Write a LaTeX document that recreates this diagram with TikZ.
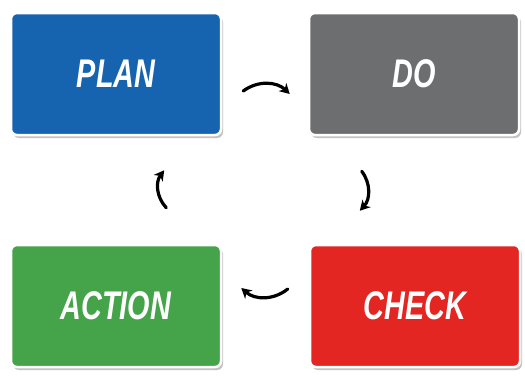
\documentclass[tikz,border=0pt]{standalone}
\usepackage{fontspec}
\setmainfont{Liberation Sans}
\newfontfamily\cyclefont[FakeStretch=0.72]{Liberation Sans}
\usetikzlibrary{arrows.meta,shadows}
\definecolor{planblue}{HTML}{1664B0}
\definecolor{dogray}{HTML}{6C6E70}
\definecolor{checkred}{HTML}{E32622}
\definecolor{actgreen}{HTML}{45A349}

\begin{document}
\begin{tikzpicture}[
    x=1pt, y=-1pt,
    stage/.style={rectangle, draw=white, line width=2.5pt, rounded corners=6pt,
        minimum width=210pt, minimum height=122pt, text=white,
        font=\cyclefont\bfseries\itshape\fontsize{40}{44}\selectfont,
        drop shadow={shadow xshift=2pt, shadow yshift=-3pt, fill=black!40, opacity=.6}},
    cyc/.style={-{Stealth[length=10pt,width=11pt,inset=3pt]}, line width=3.2pt, line cap=round}
]
\useasboundingbox (0,0) rectangle (525,376);

\node[stage, fill=planblue] (plan) at (116,74) {PLAN};
\node[stage, fill=dogray] (do) at (414,74) {DO};
\node[stage, fill=checkred] (check) at (415,306) {CHECK};
\node[stage, fill=actgreen] (action) at (116,306) {ACTION};

% short bent arrows between the stages
\draw[cyc] ([xshift=21pt,yshift=-17pt]plan.east) to[bend left=40] ([xshift=-18pt,yshift=-20pt]do.west);
\draw[cyc] ([xshift=54pt,yshift=-35pt]do.south west) to[bend left=40] ([xshift=51pt,yshift=33pt]check.north west);
\draw[cyc] ([xshift=-21pt,yshift=17pt]check.west) to[bend left=40] ([xshift=19pt,yshift=18pt]action.east);
\draw[cyc] ([xshift=-56pt,yshift=36pt]action.north east) to[bend left=40] ([xshift=-58pt,yshift=-34pt]plan.south east);
\end{tikzpicture}
\end{document}
